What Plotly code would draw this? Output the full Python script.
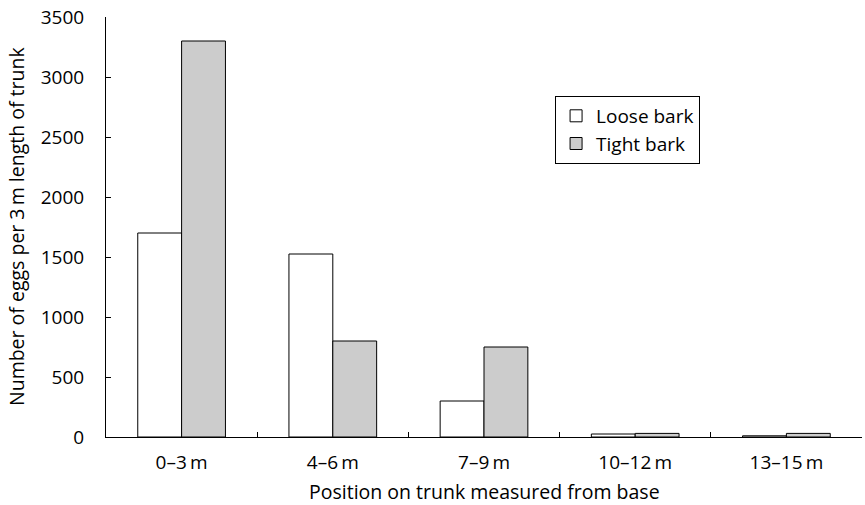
import plotly.graph_objects as go

categories = ["0–3\u2009m", "4–6\u2009m", "7–9\u2009m", "10–12\u2009m", "13–15\u2009m"]
loose_bark = [1700, 1525, 300, 25, 10]
tight_bark = [3300, 800, 750, 30, 30]
y_ticks = [0, 500, 1000, 1500, 2000, 2500, 3000, 3500]

FONT = "Open Sans"

fig = go.Figure()
fig.add_trace(go.Bar(x=categories, y=loose_bark, name="Loose bark",
                     marker=dict(color="white", line=dict(color="black", width=1))))
fig.add_trace(go.Bar(x=categories, y=tight_bark, name="Tight bark",
                     marker=dict(color="#cccccc", line=dict(color="black", width=1))))

fig.update_layout(
    width=865, height=505,
    margin=dict(l=106, r=3, t=17, b=68),
    paper_bgcolor="white", plot_bgcolor="white",
    font=dict(family=FONT, size=19, color="black"),
    barmode="group", bargap=0.42, bargroupgap=0,
    legend=dict(x=0.594, y=0.812, xanchor="left", yanchor="top",
                bordercolor="black", borderwidth=1, bgcolor="white", itemwidth=30,
                font=dict(size=19, family=FONT), tracegroupgap=0),
    xaxis=dict(showline=True, linecolor="black", linewidth=1, automargin=False,
               ticks="inside", tickson="boundaries", ticklen=5, tickcolor="black",
               showgrid=False, ticklabelstandoff=8),
    yaxis=dict(range=[0, 3500], tickvals=y_ticks, showline=True, linecolor="black",
               linewidth=1, ticks="inside", ticklen=5, tickcolor="black", automargin=False,
               showgrid=False, zeroline=False, ticklabelstandoff=17,
               ticklabeloverflow="allow"),
    annotations=[
        dict(text="Position on trunk measured from base", xref="paper", yref="paper",
             x=0.5, y=0, yshift=-54, xanchor="center", yanchor="middle",
             showarrow=False, font=dict(size=19.5)),
        dict(text="Number of eggs per 3\u2009m length of trunk", xref="paper", yref="paper",
             x=0, y=0.5, xshift=-90, textangle=-90, xanchor="center", yanchor="middle",
             showarrow=False, font=dict(size=19.5)),
    ],
)

fig.write_html("out.html", config={"displayModeBar": False},
               post_script="document.body.style.margin='0';")
